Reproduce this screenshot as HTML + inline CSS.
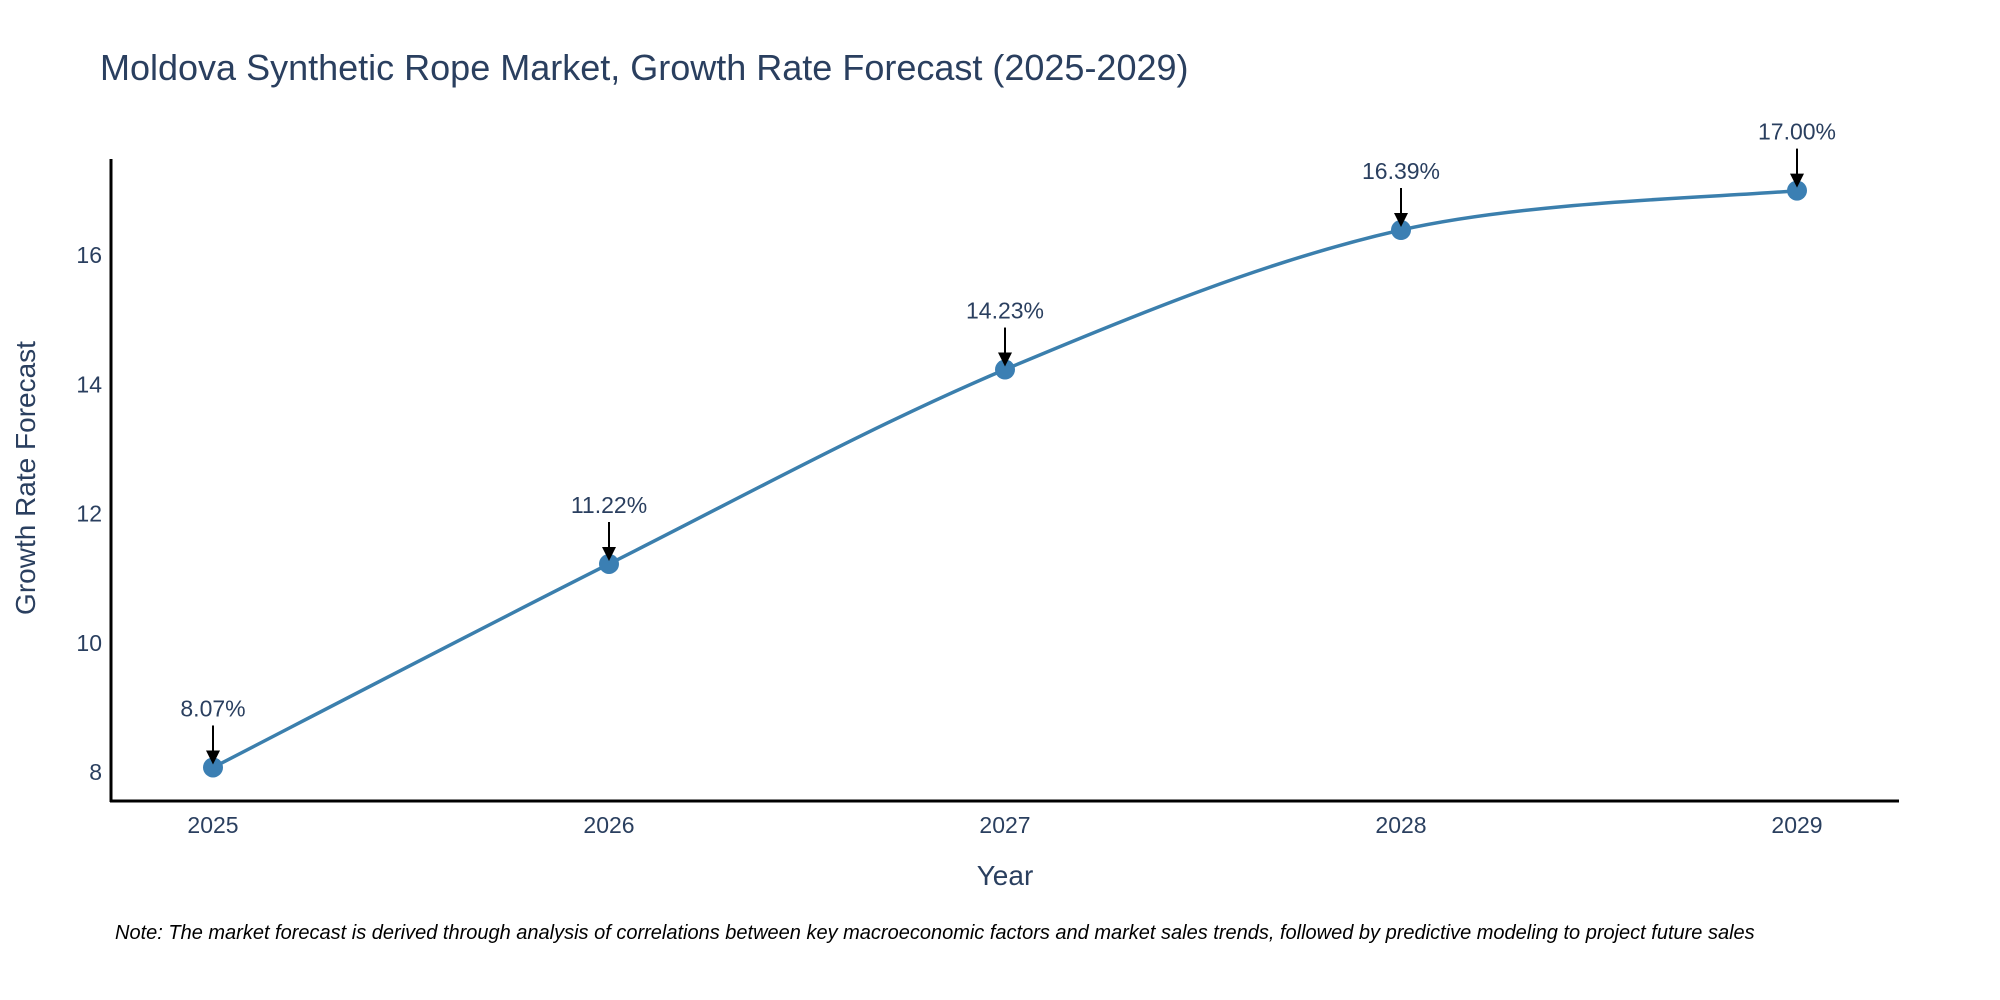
<!DOCTYPE html>
<html><head><meta charset="utf-8"><style>
html,body{margin:0;padding:0;background:#fff;}
svg{display:block;font-family:"Liberation Sans","DejaVu Sans",sans-serif;}
</style></head><body>
<svg id="chart" width="2000" height="1000" viewBox="0 0 2000 1000">
<text x="100" y="80" font-size="36" fill="#2a3f5f">Moldova Synthetic Rope Market, Growth Rate Forecast (2025-2029)</text>
<g id="yticks"></g>
<g id="xticks"></g>
<path id="line" fill="none" stroke="#3b7fad" stroke-width="3.5"></path>
<g id="points"></g>
<g id="annos"></g>
<line x1="111" y1="159" x2="111" y2="802" stroke="#000" stroke-width="3"/>
<line x1="110" y1="801" x2="1899" y2="801" stroke="#000" stroke-width="3"/>
<text transform="translate(35,478) rotate(-90)" text-anchor="middle" font-size="28" fill="#2a3f5f">Growth Rate Forecast</text>
<text x="1005" y="885" text-anchor="middle" font-size="28" fill="#2a3f5f">Year</text>
<text x="115" y="939" font-size="20" font-style="italic" fill="#000">Note: The market forecast is derived through analysis of correlations between key macroeconomic factors and market sales trends, followed by predictive modeling to project future sales</text>
</svg>
<script>
const years = ["2025","2026","2027","2028","2029"];
const values = [8.07, 11.22, 14.23, 16.39, 17.00];
const labels = ["8.07%","11.22%","14.23%","16.39%","17.00%"];
const yTicks = [8, 10, 12, 14, 16];

const NS = "http://www.w3.org/2000/svg";
function xPos(i){ return 213 + i * 396; }
function yPos(v){ return 772 - (v - 8) * 64.6; }
function mk(tag, attrs, parent){ const e=document.createElementNS(NS,tag); for(const k in attrs) e.setAttribute(k,attrs[k]); parent.appendChild(e); return e; }

const yt=document.getElementById('yticks');
yTicks.forEach(t=>{
  const e=mk('text',{x:102,y:yPos(t)+8,'text-anchor':'end','font-size':23,fill:'#2a3f5f'},yt);
  
  
  e.textContent=t;
});
const xt=document.getElementById('xticks');
years.forEach((y,i)=>{
  const e=mk('text',{x:xPos(i),y:833,'text-anchor':'middle','font-size':23,fill:'#2a3f5f'},xt);
  
  
  e.textContent=y;
});

// Catmull-Rom spline
const pts=values.map((v,i)=>[xPos(i),yPos(v)]);
let d="M"+pts[0][0]+","+pts[0][1];
const s=0.5/3*2;
for(let i=0;i<pts.length-1;i++){
  const p0=pts[Math.max(0,i-1)],p1=pts[i],p2=pts[i+1],p3=pts[Math.min(pts.length-1,i+2)];
  const c1=[p1[0]+(p2[0]-p0[0])*s/2,p1[1]+(p2[1]-p0[1])*s/2];
  const c2=[p2[0]-(p3[0]-p1[0])*s/2,p2[1]-(p3[1]-p1[1])*s/2];
  d+=" C"+c1+" "+c2+" "+p2;
}
document.getElementById('line').setAttribute('d',d);

const pg=document.getElementById('points'), ag=document.getElementById('annos');
pts.forEach((p,i)=>{
  const c=mk('circle',{cx:p[0],cy:p[1],r:10,fill:'#3b7fb3'},pg);
  
  
  const a=mk('line',{x1:p[0],y1:p[1]-42,x2:p[0],y2:p[1]-14,stroke:'#000','stroke-width':2},ag);
  
  
  const h=mk('polygon',{points:(p[0]-7)+","+(p[1]-17)+" "+(p[0]+7)+","+(p[1]-17)+" "+p[0]+","+(p[1]-3),fill:'#000'},ag);
  
  
  const t=mk('text',{x:p[0],y:p[1]-51,'text-anchor':'middle','font-size':23,fill:'#2a3f5f'},ag);
  
  
  t.textContent=labels[i];
});
</script>
</body></html>
